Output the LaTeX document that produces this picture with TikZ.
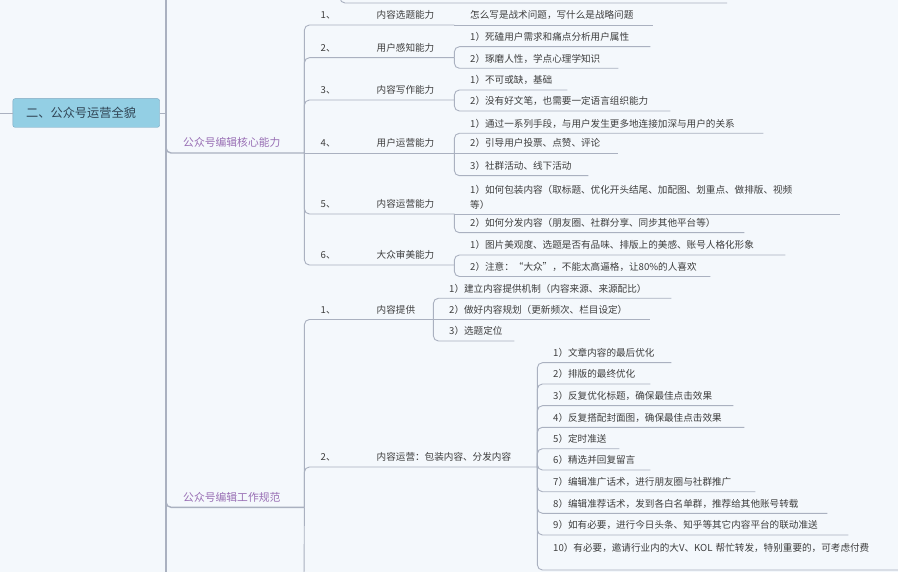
\documentclass[tikz,border=0pt]{standalone}
\usepackage{fontspec}
\setmainfont{Noto Sans CJK SC}
\usepackage{tikz}
\usepackage{xcolor}

\definecolor{paper}{RGB}{244,248,252}
\definecolor{linegray}{RGB}{170,177,192}
\definecolor{ink}{RGB}{62,62,62}
\definecolor{areapurple}{RGB}{152,110,180}
\definecolor{rootfill}{RGB}{147,207,228}
\definecolor{rootborder}{RGB}{118,164,190}
\definecolor{rootink}{RGB}{48,68,84}

\begin{document}
\begin{tikzpicture}[
    x=1pt, y=-1pt,
    link/.style={draw=linegray, line width=0.9pt, rounded corners=5pt},
    branch/.style={draw=linegray, line width=1.4pt, rounded corners=5pt},
    trunk/.style={draw=linegray, line width=2pt},
    topic/.style={anchor=south west, inner xsep=16pt, inner ysep=3.5pt, text height=7.5pt, text depth=2.5pt, align=left, font=\fontsize{9.6}{15}\selectfont, text=ink},
    leaf/.style={topic, text width=#1pt},
    item/.style={topic, inner xsep=16.5pt, text width=#1pt},
    area/.style={topic, inner xsep=17pt, text width=#1pt, font=\fontsize{10.8}{13}\selectfont, text=areapurple},
    root/.style={draw=rootborder, fill=rootfill, rounded corners=2pt, anchor=west, inner xsep=13.3pt, text width=120pt, minimum height=28.6pt, align=left, font=\fontsize{12.2}{14}\selectfont, text=rootink}
]
    \useasboundingbox (0,0) rectangle (898,572);
    \fill[paper] (0,0) rectangle (898,572);

    % Root and main spine
    \coordinate (inlet) at (0,113);
    \coordinate (hub) at (166,113);
    \coordinate (spinetop) at (166,-8);
    \coordinate (spinebot) at (166,580);
    \node[root] (root) at (12.7,113) {二、公众号运营全貌};
    \draw[link] (inlet) -- (root);
    \draw[link] (root) -- (hub);
    \draw[trunk] (spinetop) -- (spinebot);

    % Tail of the branch above
    \coordinate (prevup) at (340,-8);
    \coordinate (prevend) at (727,3);
    \draw[link] (prevup) |- (prevend);

    % Level 1
    \node[area=104] (core) at (166,153) {公众号编辑核心能力};
    \node[area=104] (work) at (166,507.3) {公众号编辑工作规范};
    \draw[branch] (hub) |- (core.south east);
    \draw[branch] (hub) |- (work.south east);

    % Core abilities
    \node[item=117] (c1) at (304,25) {\makebox[56pt][l]{1、}内容选题能力};
    \node[item=117] (c2) at (304,57.7) {\makebox[56pt][l]{2、}用户感知能力};
    \node[item=117] (c3) at (304,100) {\makebox[56pt][l]{3、}内容写作能力};
    \node[item=117] (c4) at (304,153) {\makebox[56pt][l]{4、}用户运营能力};
    \node[item=117] (c5) at (304,214) {\makebox[56pt][l]{5、}内容运营能力};
    \node[item=117] (c6) at (304,265) {\makebox[56pt][l]{6、}大众审美能力};
    \draw[link] (core.south east) |- (c1.south east);
    \draw[link] (core.south east) |- (c2.south east);
    \draw[link] (core.south east) |- (c3.south east);
    \draw[link] (core.south east) -- (c4.south east);
    \draw[link] (core.south east) |- (c5.south east);
    \draw[link] (core.south east) |- (c6.south east);

    \node[leaf=167] (c1a) at (454,25) {怎么写是战术问题，写什么是战略问题};
    \node[leaf=164] (c2a) at (454,46.7) {1）死磕用户需求和痛点分析用户属性};
    \node[leaf=132] (c2b) at (454,68.3) {2）琢磨人性，学点心理学知识};
    \node[leaf=81] (c3a) at (454,90) {1）不可或缺，基础};
    \node[leaf=184] (c3b) at (454,111) {2）没有好文笔，也需要一定语言组织能力};
    \node[leaf=277] (c4a) at (454,133.3) {1）通过一系列手段，与用户发生更多地连接加深与用户的关系};
    \node[leaf=132] (c4b) at (454,153) {2）引导用户投票、点赞、评论};
    \node[leaf=102] (c4c) at (454,175.7) {3）社群活动、线下活动};
    \node[leaf=354, text depth=16.7pt] (c5a) at (454,214) {1）如何包装内容（取标题、优化开头结尾、加配图、划重点、做排版、视频\\等）};
    \node[leaf=258] (c5b) at (454,232.7) {2）如何分发内容（朋友圈、社群分享、同步其他平台等）};
    \node[leaf=299] (c6a) at (454,255) {1）图片美观度、选题是否有品味、排版上的美感、账号人格化形象};
    \node[leaf=224] (c6b) at (454,276.5) {2）注意：“大众”，不能太高逼格，让80\%的人喜欢};
    \draw[link] (c1.south east) -- (c1a.south east);
    \draw[link] (c2.south east) |- (c2a.south east);
    \draw[link] (c2.south east) |- (c2b.south east);
    \draw[link] (c3.south east) |- (c3a.south east);
    \draw[link] (c3.south east) |- (c3b.south east);
    \draw[link] (c4.south east) |- (c4a.south east);
    \draw[link] (c4.south east) -- (c4b.south east);
    \draw[link] (c4.south east) |- (c4c.south east);
    \draw[link] (c5.south east) -- (c5a.south east);
    \draw[link] (c5.south east) |- (c5b.south east);
    \draw[link] (c6.south east) |- (c6a.south east);
    \draw[link] (c6.south east) |- (c6b.south east);

    % Working rules
    \coordinate (workdown) at (304,580);
    \node[item=96] (w1) at (304,319.5) {\makebox[56pt][l]{1、}内容提供};
    \node[item=200] (w2) at (304,467) {\makebox[56pt][l]{2、}内容运营：包装内容、分发内容};
    \draw[link] (work.south east) |- (w1.south east);
    \draw[link] (work.south east) |- (w2.south east);
    \draw[link] (work.south east) -- (workdown);

    \node[leaf=206] (w1a) at (433,298.3) {1）建立内容提供机制（内容来源、来源配比）};
    \node[leaf=185] (w1b) at (433,319.5) {2）做好内容规划（更新频次、栏目设定）};
    \node[leaf=49] (w1c) at (433,341) {3）选题定位};
    \draw[link] (w1.south east) |- (w1a.south east);
    \draw[link] (w1.south east) -- (w1b.south east);
    \draw[link] (w1.south east) |- (w1c.south east);

    \node[leaf=102] (w2a) at (537,362.7) {1）文章内容的最后优化};
    \node[leaf=81] (w2b) at (537,384) {2）排版的最终优化};
    \node[leaf=164] (w2c) at (537,405.7) {3）反复优化标题，确保最佳点击效果};
    \node[leaf=175] (w2d) at (537,427.3) {4）反复搭配封面图，确保最佳点击效果};
    \node[leaf=50] (w2e) at (537,448.7) {5）定时准送};
    \node[leaf=81] (w2f) at (537,470) {6）精选并回复留言};
    \node[leaf=186] (w2g) at (537,491.7) {7）编辑准广话术，进行朋友圈与社群推广};
    \node[leaf=258] (w2h) at (537,513.3) {8）编辑准荐话术，发到各白名单群，推荐给其他账号转载};
    \node[leaf=279] (w2i) at (537,535) {9）如有必要，进行今日头条、知乎等其它内容平台的联动准送};
    \node[leaf=420, text depth=15pt] (w2j) at (537,570) {10）有必要，邀请行业内的大V、KOL 帮忙转发，特别重要的，可考虑付费};
    \draw[link] (w2.south east) |- (w2a.south east);
    \draw[link] (w2.south east) |- (w2b.south east);
    \draw[link] (w2.south east) |- (w2c.south east);
    \draw[link] (w2.south east) |- (w2d.south east);
    \draw[link] (w2.south east) |- (w2e.south east);
    \draw[link] (w2.south east) |- (w2f.south east);
    \draw[link] (w2.south east) |- (w2g.south east);
    \draw[link] (w2.south east) |- (w2h.south east);
    \draw[link] (w2.south east) |- (w2i.south east);
    \draw[link] (w2.south east) |- (w2j.south east);
\end{tikzpicture}
\end{document}
